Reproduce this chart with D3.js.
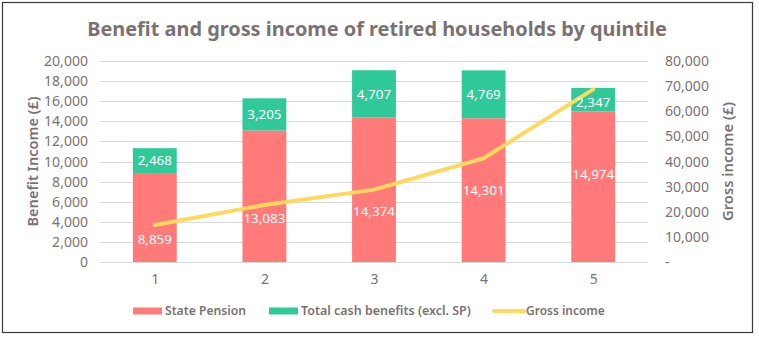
<!DOCTYPE html>
<html>
<head>
<meta charset="utf-8">
<script src="https://cdn.jsdelivr.net/npm/d3@7"></script>
<style>
  html, body { margin: 0; padding: 0; background: #fff; }
  svg { display: block; }
  text { font-family: "Noto Sans", Lato, sans-serif; }
</style>
</head>
<body>
<svg id="chart" width="759" height="337"></svg>
<script>
// Quintiles of retired households
const quintiles = ["1", "2", "3", "4", "5"];
// Annual State Pension per household (£)
const statePension = [8859, 13083, 14374, 14301, 14974];
// Other cash benefits, excluding State Pension (£)
const otherBenefits = [2468, 3205, 4707, 4769, 2347];
// Gross household income (£), plotted on the right axis
const grossIncome = [14700, 22700, 28800, 41300, 68700];

const leftTicks = [0, 2000, 4000, 6000, 8000, 10000, 12000, 14000, 16000, 18000, 20000];
const rightTicks = [0, 10000, 20000, 30000, 40000, 50000, 60000, 70000, 80000];

const seriesNames = ["State Pension", "Total cash benefits (excl. SP)", "Gross income"];
const colors = { pension: "#FF7A78", other: "#2FC99A", gross: "#FFD95E" };
const textGrey = "#7A7272";

// vertical nudges (px) keeping pension labels clear of the income line
const pensionLabelShift = [22, 22, 22, 0, -12];
const otherLabelShift = [0, 0, 0, 0, 3];

const svg = d3.select("#chart");
const plot = { left: 100, right: 648, top: 61, bottom: 262 };

// font size at which a string spans the given width
function sizeFor(str, width, attrs) {
  const t = svg.append("text").attr("font-size", 20).text(str);
  Object.entries(attrs || {}).forEach(([k, v]) => t.attr(k, v));
  const w = t.node().getComputedTextLength();
  t.remove();
  return 20 * width / w;
}
function fitWidth(sel, width) {
  const fs = parseFloat(sel.attr("font-size"));
  const w = sel.node().getComputedTextLength();
  sel.attr("font-size", fs * width / w);
  return sel;
}

// outer frame
svg.append("rect")
  .attr("x", 2.5).attr("y", 2.5)
  .attr("width", 750).attr("height", 330)
  .attr("fill", "#fff").attr("stroke", "#3a3a3a").attr("stroke-width", 1.2);

// title
const title = svg.append("text")
  .attr("x", 377).attr("y", 36)
  .attr("text-anchor", "middle")
  .attr("font-family", "Lato, sans-serif")
  .attr("font-weight", 700)
  .attr("font-size", 21)
  .attr("fill", textGrey)
  .text("Benefit and gross income of retired households by quintile");
fitWidth(title, 580);

const x = d3.scaleBand().domain(quintiles).range([plot.left, plot.right]).paddingInner(0.6).paddingOuter(0.3);
const xc = d3.scalePoint().domain(quintiles).range([plot.left, plot.right]).padding(0.5);
const yL = d3.scaleLinear().domain([0, 20000]).range([plot.bottom, plot.top]);
const yR = d3.scaleLinear().domain([0, 80000]).range([plot.bottom, plot.top]);

// gridlines
svg.append("g")
  .selectAll("line").data(leftTicks).join("line")
  .attr("x1", plot.left).attr("x2", plot.right)
  .attr("y1", d => Math.round(yL(d)) + 0.5).attr("y2", d => Math.round(yL(d)) + 0.5)
  .attr("stroke", "#D9D9D9").attr("stroke-width", 1);

const fmt = d3.format(",");
const tickSize = sizeFor("20,000", 44);
const valueSize = sizeFor("13,083", 42);

// left axis
const gL = svg.append("g").attr("transform", `translate(${plot.left - 12},0)`)
  .call(d3.axisLeft(yL).tickValues(leftTicks).tickFormat(fmt).tickSize(0).tickPadding(0));
gL.select(".domain").remove();
gL.selectAll("text").attr("font-size", tickSize).attr("fill", textGrey).attr("font-family", "'Noto Sans', sans-serif");

// right axis
const gR = svg.append("g").attr("transform", `translate(${plot.right + 17},0)`)
  .call(d3.axisRight(yR).tickValues(rightTicks).tickFormat(d => d === 0 ? "-" : fmt(d)).tickSize(0).tickPadding(0));
gR.select(".domain").remove();
gR.selectAll("text").attr("font-size", tickSize).attr("fill", textGrey).attr("font-family", "'Noto Sans', sans-serif");

// x axis labels
const gX = svg.append("g").attr("transform", `translate(0,${plot.bottom + 12})`)
  .call(d3.axisBottom(xc).tickSize(0).tickPadding(0));
gX.select(".domain").remove();
gX.selectAll("text").attr("font-size", tickSize).attr("fill", textGrey).attr("font-family", "'Noto Sans', sans-serif").attr("dy", "0.71em");

// axis titles
const tL = svg.append("text")
  .attr("transform", `translate(37.5,${(plot.top + plot.bottom) / 2}) rotate(-90)`)
  .attr("text-anchor", "middle")
  .attr("font-size", 14).attr("font-weight", 600).attr("fill", textGrey)
  .text("Benefit Income (£)");
fitWidth(tL, 130);
const tR = svg.append("text")
  .attr("transform", `translate(733,${(plot.top + plot.bottom) / 2}) rotate(-90)`)
  .attr("text-anchor", "middle")
  .attr("font-size", 14).attr("font-weight", 600).attr("fill", textGrey)
  .text("Gross income (£)");
fitWidth(tR, 119);

// stacked bars
const rows = quintiles.map((q, i) => ({ q, i, sp: statePension[i], ob: otherBenefits[i] }));
const bars = svg.append("g");
bars.selectAll("rect.sp").data(rows).join("rect")
  .attr("class", "sp")
  .attr("x", d => x(d.q)).attr("width", x.bandwidth())
  .attr("y", d => yL(d.sp)).attr("height", d => yL(0) - yL(d.sp))
  .attr("fill", colors.pension);
bars.selectAll("rect.ob").data(rows).join("rect")
  .attr("class", "ob")
  .attr("x", d => x(d.q)).attr("width", x.bandwidth())
  .attr("y", d => yL(d.sp + d.ob)).attr("height", d => yL(d.sp) - yL(d.sp + d.ob))
  .attr("fill", colors.other);

// gross income line
svg.append("path")
  .datum(grossIncome)
  .attr("fill", "none")
  .attr("stroke", colors.gross)
  .attr("stroke-width", 4)
  .attr("stroke-linejoin", "round")
  .attr("stroke-linecap", "round")
  .attr("d", d3.line().x((d, i) => xc(quintiles[i])).y(d => yR(d)));

// value labels
const labels = svg.append("g").attr("text-anchor", "middle").attr("fill", "#fff").attr("font-size", valueSize);
labels.selectAll("text.sp").data(rows).join("text")
  .attr("class", "sp")
  .attr("x", d => xc(d.q))
  .attr("y", d => (yL(0) + yL(d.sp)) / 2 + pensionLabelShift[d.i])
  .attr("dy", "0.35em")
  .text(d => fmt(d.sp));
labels.selectAll("text.ob").data(rows).join("text")
  .attr("class", "ob")
  .attr("x", d => xc(d.q))
  .attr("y", d => (yL(d.sp) + yL(d.sp + d.ob)) / 2 + otherLabelShift[d.i])
  .attr("dy", "0.35em")
  .text(d => fmt(d.ob));

// legend
const legend = svg.append("g").attr("font-size", 13).attr("font-weight", 600).attr("fill", textGrey);
const legendY = 311;
const items = [
  { name: seriesNames[0], x: 133, w: 81, type: "rect", color: colors.pension },
  { name: seriesNames[1], x: 269, w: 170, type: "rect", color: colors.other },
  { name: seriesNames[2], x: 494, w: 79, type: "line", color: colors.gross }
];
items.forEach(it => {
  if (it.type === "rect") {
    legend.append("rect").attr("x", it.x).attr("y", legendY - 3.5).attr("width", 29).attr("height", 7).attr("fill", it.color);
  } else {
    legend.append("line").attr("x1", it.x).attr("x2", it.x + 31).attr("y1", legendY).attr("y2", legendY)
      .attr("stroke", it.color).attr("stroke-width", 4).attr("stroke-linecap", "round");
  }
  const t = legend.append("text").attr("x", it.x + 32).attr("y", legendY).attr("dy", "0.35em").attr("font-size", 13).text(it.name);
  fitWidth(t, it.w);
});
</script>
</body>
</html>
